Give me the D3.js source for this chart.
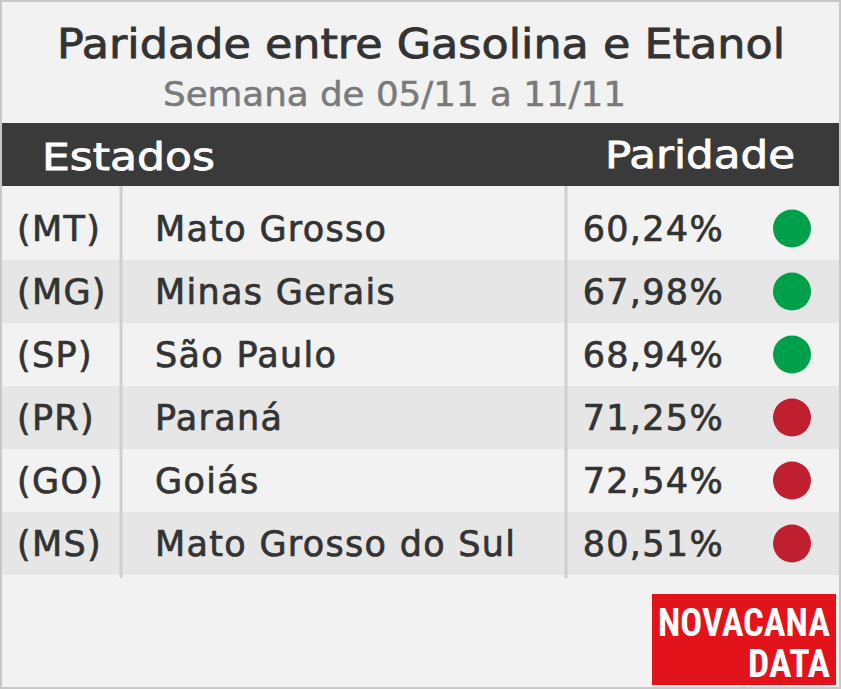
<!DOCTYPE html>
<html><head><meta charset="utf-8">
<script src="https://cdn.jsdelivr.net/npm/d3@7"></script>
<style>body{margin:0;background:#fff}</style>
</head><body>
<svg id="chart" width="841" height="689"></svg>
<script>
const siglas = ['(MT)', '(MG)', '(SP)', '(PR)', '(GO)', '(MS)'];
const estados = ['Mato Grosso', 'Minas Gerais', 'São Paulo', 'Paraná', 'Goiás', 'Mato Grosso do Sul'];
const paridade = [60.24, 67.98, 68.94, 71.25, 72.54, 80.51];

const svg = d3.select('#chart');
const font = '"DejaVu Sans", sans-serif';

svg.append('rect').attr('x', 1).attr('y', 1).attr('width', 839).attr('height', 687)
  .attr('fill', '#f2f2f2').attr('stroke', '#c8c8c8').attr('stroke-width', 2);

svg.append('text').attr('x', 57).attr('y', 58)
  .style('font-family', font).style('font-size', '40px')
  .attr('textLength', 728).attr('lengthAdjust', 'spacingAndGlyphs')
  .attr('fill', '#333').attr('stroke', '#333').attr('stroke-width', 0.8).text('Paridade entre Gasolina e Etanol');
svg.append('text').attr('x', 163).attr('y', 106)
  .style('font-family', font).style('font-size', '33px')
  .attr('textLength', 463).attr('lengthAdjust', 'spacingAndGlyphs')
  .attr('fill', '#7a7a7a').attr('stroke', '#7a7a7a').attr('stroke-width', 0.5).text('Semana de 05/11 a 11/11');

// header bar
svg.append('rect').attr('x', 2).attr('y', 123).attr('width', 837).attr('height', 63).attr('fill', '#3a3a3a');
svg.append('text').attr('x', 42).attr('y', 170).style('font-family', font).style('font-size', '37px')
  .attr('textLength', 173).attr('lengthAdjust', 'spacingAndGlyphs').attr('fill', '#fff')
  .attr('stroke', '#fff').attr('stroke-width', 0.8).text('Estados');
svg.append('text').attr('x', 605).attr('y', 168).style('font-family', font)
  .style('font-size', '37px').attr('textLength', 190).attr('lengthAdjust', 'spacingAndGlyphs')
  .attr('fill', '#fff').attr('stroke', '#fff').attr('stroke-width', 0.8).text('Paridade');

const y = d3.scaleBand().domain(d3.range(siglas.length)).range([197, 575]);
const color = v => v < 70 ? '#00a04a' : '#c01f2f';

const rows = svg.selectAll('g.row').data(d3.range(siglas.length)).enter()
  .append('g').attr('class', 'row').attr('transform', i => `translate(0,${y(i)})`);

rows.append('rect').attr('x', 2).attr('width', 837).attr('height', y.bandwidth())
  .attr('fill', i => i % 2 ? '#e6e6e6' : 'none');

const txt = (sel, x, f, anchor) => sel.append('text').attr('x', x).attr('y', y.bandwidth() / 2 + 12)
  .attr('text-anchor', anchor || 'start').style('font-family', font).style('font-size', '35px')
  .style('letter-spacing', '1.3px').attr('fill', '#333').attr('stroke', '#333').attr('stroke-width', 0.7).text(f);

txt(rows, 17, i => siglas[i]);
txt(rows, 155, i => estados[i]);
txt(rows, 724, i => paridade[i].toFixed(2).replace('.', ',') + '%', 'end');
rows.append('circle').attr('cx', 792).attr('cy', y.bandwidth() / 2).attr('r', 19)
  .attr('fill', i => color(paridade[i]));

[121, 566].forEach(x => svg.append('line').attr('x1', x).attr('x2', x).attr('y1', 186).attr('y2', 578)
  .attr('stroke', '#cfcfcf').attr('stroke-width', 3));

// logo
svg.append('rect').attr('x', 652).attr('y', 594).attr('width', 184).attr('height', 91).attr('fill', '#e3131b');
svg.append('text').attr('x', 830).attr('y', 636).attr('text-anchor', 'end').style('font-family', '"Roboto Condensed", "Liberation Sans Narrow", "DejaVu Sans Condensed", sans-serif')
  .style('font-size', '38px').style('font-weight', 'bold').attr('fill', '#fff')
  .attr('textLength', 172).attr('lengthAdjust', 'spacingAndGlyphs').text('NOVACANA');
svg.append('text').attr('x', 830).attr('y', 677).attr('text-anchor', 'end').style('font-family', '"Roboto Condensed", "Liberation Sans Narrow", "DejaVu Sans Condensed", sans-serif')
  .style('font-size', '38px').style('font-weight', 'bold').attr('fill', '#fff')
  .attr('textLength', 82).attr('lengthAdjust', 'spacingAndGlyphs').text('DATA');
</script>
</body></html>
